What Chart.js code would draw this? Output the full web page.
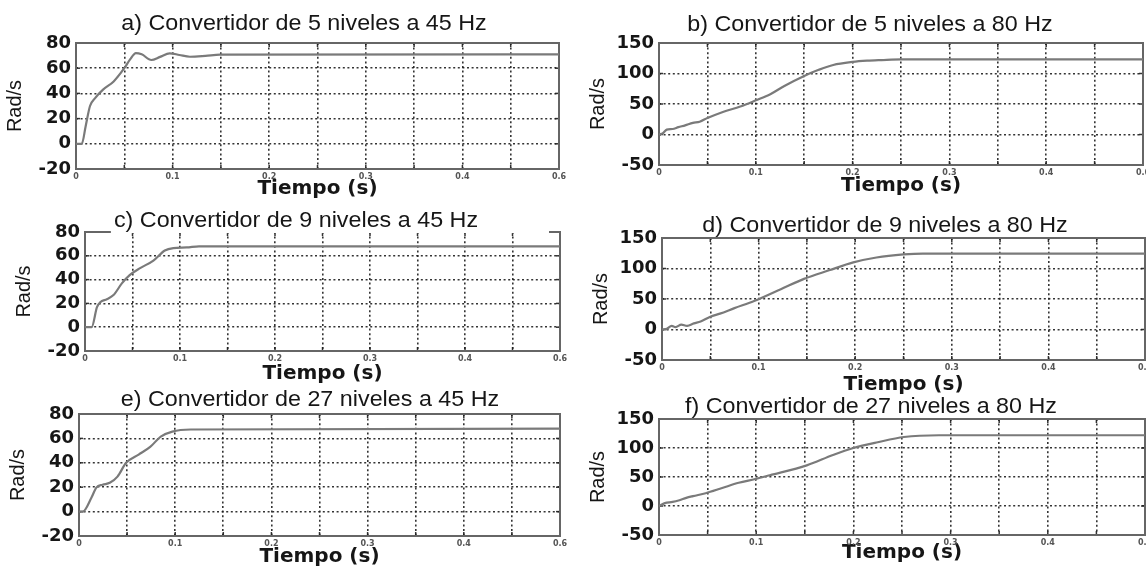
<!DOCTYPE html>
<html>
<head>
<meta charset="utf-8">
<script src="https://cdn.jsdelivr.net/npm/chart.js@4.4.1/dist/chart.umd.min.js"></script>
<style>
  html, body { margin: 0; padding: 0; background: #fff; }
  #wrap { position: relative; width: 1146px; height: 570px; overflow: hidden; background: #fff; }
  #wrap canvas { position: absolute; left: 0; top: 0; }
</style>
</head>
<body>
<div id="wrap">
  <canvas id="chartA" width="1146" height="570"></canvas>
  <canvas id="chartB" width="1146" height="570"></canvas>
  <canvas id="chartC" width="1146" height="570"></canvas>
  <canvas id="chartD" width="1146" height="570"></canvas>
  <canvas id="chartE" width="1146" height="570"></canvas>
  <canvas id="chartF" width="1146" height="570"></canvas>
</div>
<script>
// tick labels, as printed on the figure
const xTickLabels = ['0', '0.1', '0.2', '0.3', '0.4', '0.6'];
const yTicks45 = ['-20', '0', '20', '40', '60', '80'];
const yTicks80 = ['-50', '0', '50', '100', '150'];

// a) 5 niveles, 45 Hz
const timeA = [0, 0.006, 0.010, 0.0145, 0.02, 0.028, 0.039, 0.05, 0.056, 0.062, 0.068, 0.078, 0.087, 0.097, 0.107, 0.118, 0.134, 0.149, 0.5];
const speedA = [0, 0, 14, 30, 36.5, 43, 49.5, 60, 67, 72, 71, 66.5, 69, 71.8, 70.5, 69.1, 69.8, 70.8, 71];

// b) 5 niveles, 80 Hz
const timeB = [0, 0.004, 0.008, 0.014, 0.02, 0.027, 0.035, 0.042, 0.05, 0.066, 0.084, 0.1, 0.115, 0.13, 0.15, 0.165, 0.18, 0.2, 0.215, 0.23, 0.25, 0.5];
const speedB = [0, 2, 8, 9, 12, 15, 19, 21, 27, 37, 46, 56, 66, 80, 96, 106, 114, 119, 121, 122, 123, 123];

// c) 9 niveles, 45 Hz
const timeC = [0, 0.007, 0.0126, 0.016, 0.023, 0.03, 0.039, 0.047, 0.058, 0.072, 0.084, 0.093, 0.107, 0.12, 0.5];
const speedC = [0, 0, 16.8, 21, 23.5, 27, 37, 43.7, 49.6, 56, 64.5, 66.5, 67, 68, 68];

// d) 9 niveles, 80 Hz
const timeD = [0, 0.005, 0.01, 0.014, 0.02, 0.026, 0.033, 0.04, 0.05, 0.06, 0.075, 0.096, 0.123, 0.147, 0.173, 0.198, 0.222, 0.25, 0.27, 0.5];
const speedD = [0, 1, 6, 4, 8, 6, 10, 13, 21, 26, 35, 47, 66, 83, 97, 110, 118, 123, 124.5, 124.5];

// e) 27 niveles, 45 Hz
const timeE = [0, 0.004, 0.013, 0.018, 0.0245, 0.032, 0.04, 0.049, 0.062, 0.074, 0.085, 0.097, 0.116, 0.5];
const speedE = [0, 0, 11.5, 19.7, 22, 23.6, 28.7, 40, 46.7, 53, 61.5, 65.6, 67.3, 68];

// f) 27 niveles, 80 Hz
const timeF = [0, 0.006, 0.014, 0.021, 0.028, 0.035, 0.048, 0.065, 0.082, 0.099, 0.114, 0.152, 0.179, 0.2, 0.225, 0.252, 0.288, 0.5];
const speedF = [0, 5, 7, 10, 14, 17, 22, 31, 40, 46.5, 53, 70, 88, 100, 110, 119, 122, 122];

const titleA = 'a) Convertidor de 5 niveles a 45 Hz';
const titleB = 'b) Convertidor de 5 niveles a 80 Hz';
const titleC = 'c) Convertidor de 9 niveles a 45 Hz';
const titleD = 'd) Convertidor de 9 niveles a 80 Hz';
const titleE = 'e) Convertidor de 27 niveles a 45 Hz';
const titleF = 'f) Convertidor de 27 niveles a 80 Hz';

const W = 1146, H = 570;
const Y_AXIS_W = 73;
const GRID = 'rgba(30,30,30,0.9)';
const TEXT = '#161616';

// where each panel sits on the page: plot box [left, top, right, bottom]
const panels = [
  { id: 'chartA', title: titleA, time: timeA, speed: speedA, yTicks: yTicks45, box: [76, 43, 559, 169], tx: 304, ty: 30, xTitleY: 189 },
  { id: 'chartB', title: titleB, time: timeB, speed: speedB, yTicks: yTicks80, box: [659, 43, 1143, 165], tx: 870, ty: 31, xTitleY: 186 },
  { id: 'chartC', title: titleC, time: timeC, speed: speedC, yTicks: yTicks45, box: [85, 232, 560, 351], tx: 296, ty: 227, xTitleY: 374, maskRight: 549 },
  { id: 'chartD', title: titleD, time: timeD, speed: speedD, yTicks: yTicks80, box: [662, 238, 1145, 360], tx: 885, ty: 232, xTitleY: 385 },
  { id: 'chartE', title: titleE, time: timeE, speed: speedE, yTicks: yTicks45, box: [79, 414, 560, 536], tx: 310, ty: 406, xTitleY: 557 },
  { id: 'chartF', title: titleF, time: timeF, speed: speedF, yTicks: yTicks80, box: [659, 419, 1145, 535], tx: 871, ty: 413, xTitleY: 553 }
];

// box round the plot plus the little inward ticks, matlab style
const boxPlugin = {
  id: 'matlabBox',
  beforeDatasetsDraw(chart) {
    const { ctx, chartArea: a, scales } = chart;
    const seg = (x1, y1, x2, y2) => { ctx.beginPath(); ctx.moveTo(x1, y1); ctx.lineTo(x2, y2); ctx.stroke(); };
    ctx.save();
    ctx.strokeStyle = GRID;
    ctx.lineWidth = 1.5;
    scales.x.ticks.forEach(t => {
      const x = scales.x.getPixelForValue(t.value);
      seg(x, a.top, x, a.top + 4);
      seg(x, a.bottom, x, a.bottom - 4);
    });
    scales.y.ticks.forEach(t => {
      const y = scales.y.getPixelForValue(t.value);
      seg(a.left, y, a.left + 4, y);
      seg(a.right, y, a.right - 4, y);
    });
    ctx.strokeStyle = '#666';
    ctx.lineWidth = 2;
    ctx.strokeRect(a.left, a.top, a.right - a.left, a.bottom - a.top);
    ctx.restore();
  }
};

// panel caption, slightly wide like the scanned figure
const titlePlugin = {
  id: 'panelTitle',
  afterDraw(chart, args, o) {
    const ctx = chart.ctx;
    ctx.save();
    ctx.font = o.size + 'px "Liberation Sans", Arial, sans-serif';
    const w = ctx.measureText(o.text).width * o.stretch;
    const left = o.x - w / 2;
    if (o.maskRight) {
      ctx.fillStyle = '#fff';
      ctx.fillRect(left - 3, o.y - o.size * 0.92, o.maskRight - left + 3, o.size * 1.2);
    }
    ctx.translate(left, o.y);
    ctx.scale(o.stretch, 1);
    ctx.fillStyle = TEXT;
    ctx.textBaseline = 'alphabetic';
    ctx.textAlign = 'left';
    ctx.fillText(o.text, 0, 0);
    ctx.restore();
  }
};

panels.forEach(p => {
  const [L, T, R, B] = p.box;
  const xAxisH = p.xTitleY - B + 12;
  const ymin = Number(p.yTicks[0]);
  const ymax = Number(p.yTicks[p.yTicks.length - 1]);
  const ystep = Number(p.yTicks[1]) - ymin;

  new Chart(document.getElementById(p.id), {
    type: 'line',
    data: {
      datasets: [{
        data: p.time.map((t, i) => ({ x: t, y: p.speed[i] })),
        borderColor: '#7a7a7a',
        borderWidth: 2.2,
        pointRadius: 0,
        fill: false,
        cubicInterpolationMode: 'monotone'
      }]
    },
    options: {
      responsive: false,
      animation: false,
      devicePixelRatio: 1,
      layout: { padding: { left: L - Y_AXIS_W, top: T, right: W - R, bottom: H - B - xAxisH } },
      plugins: {
        legend: { display: false },
        tooltip: { enabled: false },
        panelTitle: { text: p.title, x: p.tx, y: p.ty, size: 22, stretch: 1.06, maskRight: p.maskRight }
      },
      scales: {
        x: {
          type: 'linear',
          min: 0,
          max: 0.5,
          afterFit: s => { s.height = xAxisH; s.paddingLeft = 0; s.paddingRight = 0; },
          ticks: {
            stepSize: 0.05,
            autoSkip: false,
            maxRotation: 0,
            padding: 3,
            color: '#555',
            font: { family: 'DejaVu Sans', size: 8, weight: 'bold' },
            callback: (v, i) => (i % 2 === 0 ? xTickLabels[i / 2] : '')
          },
          grid: { color: GRID, lineWidth: 1.6, drawTicks: false },
          border: { display: false, dash: [2, 2.6] },
          title: {
            display: true,
            text: 'Tiempo (s)',
            color: TEXT,
            padding: 0,
            font: { family: 'DejaVu Sans', size: 20, weight: 'bold' }
          }
        },
        y: {
          min: ymin,
          max: ymax,
          afterFit: s => { s.width = Y_AXIS_W; s.paddingTop = 0; s.paddingBottom = 0; },
          ticks: {
            stepSize: ystep,
            autoSkip: false,
            padding: 5,
            color: TEXT,
            font: { family: 'DejaVu Sans', size: 18, weight: 'bold' },
            callback: (v, i) => p.yTicks[i]
          },
          grid: { color: GRID, lineWidth: 1.6, drawTicks: false },
          border: { display: false, dash: [2, 2.6] },
          title: {
            display: true,
            text: 'Rad/s',
            color: TEXT,
            padding: 0,
            font: { family: 'Liberation Sans', size: 20 }
          }
        }
      }
    },
    plugins: [boxPlugin, titlePlugin]
  });
});
</script>
</body>
</html>
